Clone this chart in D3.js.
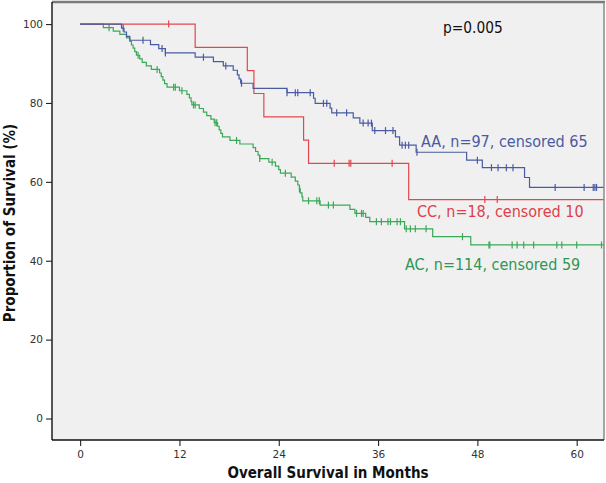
<!DOCTYPE html>
<html><head><meta charset="utf-8">
<script src="https://cdn.jsdelivr.net/npm/d3@7"></script>
<style>html,body{margin:0;padding:0;background:#fff;} svg{display:block;}</style>
</head><body>
<svg id="chart" width="606" height="483"></svg>
<script>
// ---- data (months, survival %) ----
const xTicks = [0, 12, 24, 36, 48, 60];
const yTicks = [0, 20, 40, 60, 80, 100];

const aaTimes = [0, 5.0, 5.3, 5.6, 6.0, 8.5, 9.5, 10.3, 13.9, 16.1, 17.3, 18.5, 19.0, 19.2, 19.4, 20.9, 25.0, 28.2, 28.4, 30.2, 30.4, 33.0, 33.8, 35.3, 38.1, 38.6, 40.6, 46.7, 48.6, 53.7, 54.3];
const aaSurv  = [100, 99.0, 98.0, 96.9, 95.9, 94.8, 93.8, 92.7, 91.6, 90.5, 89.4, 88.3, 87.1, 86.1, 85.0, 83.7, 82.6, 81.2, 79.9, 78.7, 77.5, 76.2, 74.9, 73.0, 71.4, 69.3, 67.5, 65.5, 63.6, 61.1, 58.6];
const aaCens  = [5.2, 7.6, 9.9, 10.3, 14.9, 17.6, 19.5, 25.0, 26.0, 26.3, 27.8, 29.4, 29.8, 31.0, 32.2, 34.2, 34.8, 35.2, 35.6, 36.9, 37.8, 38.9, 39.3, 39.7, 40.7, 48.0, 49.7, 50.5, 51.5, 52.3, 57.4, 60.9, 62.0, 62.2, 62.4];

const ccTimes = [0, 13.9, 20.2, 21.0, 22.2, 27.0, 27.6, 39.7];
const ccSurv  = [100, 94.1, 88.2, 82.4, 76.5, 70.6, 64.7, 55.5];
const ccCens  = [10.7, 30.7, 32.5, 32.7, 37.7, 48.9, 50.4];

const acTimes = [0, 2.8, 4.0, 4.8, 5.6, 6.0, 6.2, 6.4, 6.6, 6.8, 7.2, 7.5, 8.0, 8.6, 9.6, 9.8, 10.0, 10.2, 10.5, 12.0, 12.9, 13.2, 13.4, 13.5, 14.4, 14.9, 15.3, 15.8, 16.2, 16.6, 16.8, 17.0, 17.2, 18.1, 19.3, 20.9, 21.2, 21.5, 21.7, 22.8, 23.6, 24.0, 24.2, 25.5, 26.0, 26.3, 26.5, 26.6, 26.8, 26.9, 29.0, 32.6, 33.2, 34.5, 35.0, 39.2, 42.6, 47.2];
const acSurv  = [100, 99.1, 98.2, 97.4, 96.5, 95.6, 94.7, 93.9, 93.0, 92.1, 91.2, 90.3, 89.4, 88.5, 87.6, 86.7, 85.8, 84.9, 84.0, 83.1, 82.2, 81.3, 80.4, 79.5, 78.6, 77.7, 76.8, 75.9, 75.0, 74.1, 73.2, 72.3, 71.4, 70.5, 69.6, 68.7, 67.7, 66.8, 65.9, 65.0, 64.0, 63.1, 62.2, 61.2, 60.2, 59.2, 58.2, 57.2, 56.2, 55.2, 54.1, 53.0, 52.0, 51.0, 49.9, 48.1, 46.1, 44.0];
const acCens  = [3.5, 7.0, 9.3, 11.3, 11.5, 12.3, 13.7, 13.9, 16.3, 16.5, 18.9, 21.7, 23.2, 24.8, 26.5, 27.6, 28.6, 28.9, 30.0, 30.6, 33.4, 34.0, 34.2, 35.8, 36.4, 37.2, 37.5, 38.3, 38.7, 39.4, 39.9, 40.5, 41.8, 46.2, 49.4, 49.5, 52.2, 52.8, 53.6, 54.8, 57.6, 58.2, 60.0, 63.0];

const seriesNames = ["AA", "CC", "AC"];
const seriesLabels = ["AA, n=97, censored 65", "CC, n=18, censored 10", "AC, n=114, censored 59"];
const seriesColors = ["#4a5ba3", "#e2474d", "#3aa957"];
const labelColors = ["#4b5aa0", "#dd4048", "#2e9657"];
const pText = "p=0.005";
const xTitle = "Overall Survival in Months";
const yTitle = "Proportion of Survival (%)";

// ---- drawing ----
const svg = d3.select("#chart");
const L = 52, R = 604, T = 2, B = 440;
const x = d3.scaleLinear().domain([-3.4, 63.3]).range([L, R]);
const y = d3.scaleLinear().domain([-5.45, 105.6]).range([B, T]);

svg.append("rect").attr("x", L).attr("y", T).attr("width", R - L).attr("height", B - T).attr("fill", "#f0f0f0");

const series = [
  {times: aaTimes, surv: aaSurv, cens: aaCens},
  {times: ccTimes, surv: ccSurv, cens: ccCens},
  {times: acTimes, surv: acSurv, cens: acCens}
];
const xmax = x.domain()[1];
svg.append("clipPath").attr("id", "pc").append("rect")
  .attr("x", L).attr("y", T).attr("width", R - L).attr("height", B - T);

const g = svg.append("g").attr("clip-path", "url(#pc)");
const line = d3.line().x(d => x(d[0])).y(d => y(d[1])).curve(d3.curveStepAfter);

function survAt(s, t) {
  let v = s.surv[0];
  for (let i = 0; i < s.times.length; i++) if (s.times[i] <= t) v = s.surv[i];
  return v;
}

[2, 1, 0].forEach(i => {
  const s = series[i];
  const pts = s.times.map((t, k) => [t, s.surv[k]]);
  pts.push([xmax, s.surv[s.surv.length - 1]]);
  g.append("path").attr("d", line(pts)).attr("fill", "none")
    .attr("stroke", seriesColors[i]).attr("stroke-width", 1.2);
  g.selectAll(null).data(s.cens).enter().append("line")
    .attr("x1", d => x(d)).attr("x2", d => x(d))
    .attr("y1", d => y(survAt(s, d)) - 3.5).attr("y2", d => y(survAt(s, d)) + 3.5)
    .attr("stroke", seriesColors[i]).attr("stroke-width", 1.2);
});

// frame
svg.append("line").attr("x1", L).attr("x2", R + 1).attr("y1", T).attr("y2", T).attr("stroke", "#7a7a7a").attr("stroke-width", 2.5);
svg.append("line").attr("x1", R).attr("x2", R).attr("y1", T).attr("y2", B).attr("stroke", "#8a8a8a").attr("stroke-width", 1.5);

// axes
const yAxis = d3.axisLeft(y).tickValues(yTicks).tickSize(6).tickPadding(3);
const xAxis = d3.axisBottom(x).tickValues(xTicks).tickSize(6).tickPadding(5);
const ya = svg.append("g").attr("transform", `translate(${L},0)`).call(yAxis);
const xa = svg.append("g").attr("transform", `translate(0,${B})`).call(xAxis);
[ya, xa].forEach(a => {
  a.select(".domain").attr("stroke", "#111").attr("stroke-width", 1.4);
  a.selectAll(".tick line").attr("stroke", "#222").attr("stroke-width", 1.1);
  a.selectAll(".tick text").attr("fill", "#333").style("font-family", "DejaVu Sans").style("font-size", "10.5px");
});
ya.select(".domain").attr("d", `M0,${T}V${B}`);
xa.select(".domain").attr("d", `M${L},0H${R}`);

// titles
svg.append("text").attr("x", 328).attr("y", 478).attr("text-anchor", "middle")
  .style("font-family", "DejaVu Sans Condensed, DejaVu Sans").style("font-weight", "bold").style("font-size", "15px")
  .attr("fill", "#111").text(xTitle);
svg.append("text").attr("transform", "translate(15,223) rotate(-90)").attr("text-anchor", "middle")
  .style("font-family", "DejaVu Sans Condensed, DejaVu Sans").style("font-weight", "bold").style("font-size", "15px")
  .attr("fill", "#111").text(yTitle);

// annotations
svg.append("text").attr("x", 443).attr("y", 33).style("font-family", "DejaVu Sans Condensed, DejaVu Sans")
  .style("font-size", "15.3px").attr("fill", "#111").text(pText);
const labelPos = [[421, 147], [417, 217], [405, 270]];
seriesLabels.forEach((t, i) => {
  svg.append("text").attr("x", labelPos[i][0]).attr("y", labelPos[i][1])
    .style("font-family", "DejaVu Sans Condensed, DejaVu Sans").style("font-size", "16px")
    .attr("fill", labelColors[i]).text(t);
});
</script>
</body></html>
